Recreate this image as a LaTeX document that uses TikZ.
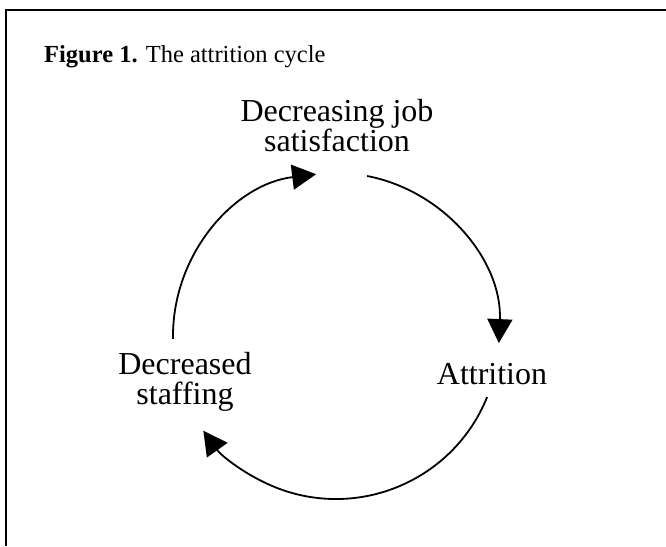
\documentclass[tikz,border=0pt]{standalone}
\usepackage{fontspec}
\setmainfont{Liberation Serif}
\usetikzlibrary{arrows.meta}
\begin{document}
\begin{tikzpicture}[
        x=1pt, y=1pt,
        frame/.style={line width=2.4pt},
        cycarrow/.style={line width=1.8pt, -{Triangle[length=24pt, width=25pt]}},
        stage/.style={inner sep=0pt, align=center, font=\fontsize{32}{30}\selectfont},
    ]
    \useasboundingbox (0,0) rectangle (666,546);
    \draw[frame] (6,0) -- (6,536) -- (666,536);
    \node[anchor=base west, inner sep=0pt, font=\fontsize{24.5}{30}\selectfont] (title) at (44,483) {\textbf{Figure 1.} The attrition cycle};
    \node[stage] (sat) at (337,420) {Decreasing job\\satisfaction};
    \node[stage, anchor=base] (att) at (492,161) {Attrition};
    \node[stage] (staff) at (185,164.5) {Decreased\\staffing};
    \coordinate (c) at (336,210);
    \coordinate (s1) at ([shift={(79:163)}]c);
    \coordinate (s2) at ([shift={(-22:163)}]c);
    \coordinate (s3) at ([shift={(181:163)}]c);
    \draw[cycarrow] (s1) arc[start angle=79, end angle=-2.5, radius=163];
    \draw[cycarrow] (s2) arc[start angle=-22, end angle=-144.5, radius=163];
    \draw[cycarrow] (s3) arc[start angle=181, end angle=97, radius=163];
\end{tikzpicture}
\end{document}
